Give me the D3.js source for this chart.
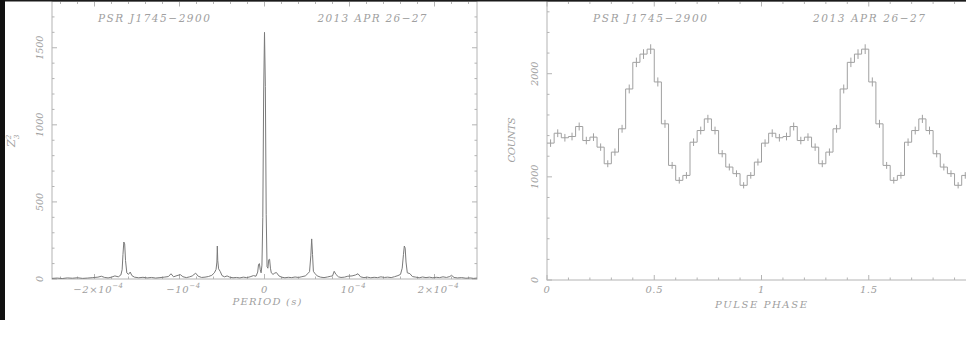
<!DOCTYPE html>
<html>
<head>
<meta charset="utf-8">
<script src="https://cdn.jsdelivr.net/npm/d3@7/dist/d3.min.js"></script>
<style>
  html, body { margin: 0; padding: 0; background: #fff; }
  svg { display: block; }
  text { font-family: "DejaVu Serif", "Liberation Serif", serif; font-style: italic; fill: #a0a0a0; }
</style>
</head>
<body>
<svg id="chart" width="966" height="352"></svg>
<script>
// ---- Z^2_3 periodogram: offset from the best period (microseconds) ----
const periodOffsetUs = [
  -250, -244, -238, -232, -226, -220, -214, -208, -202, -196, -192, -188, -184, -180, -176, -172,
  -169, -167.5, -166.5, -165.5, -164.5, -163.5, -162, -160, -158, -156, -153, -148, -143, -138,
  -133, -128, -123, -118, -113, -110, -107, -103, -99, -96, -92, -88, -85, -81, -78, -74, -70,
  -66, -62, -59, -57, -56, -55.5, -55, -54, -52, -50, -47, -44, -41, -37, -33, -29, -25, -21,
  -17, -13, -10, -8, -7, -6, -5, -4, -3, -2, -1, 0, 1, 2, 3, 4, 5, 6, 7, 8, 10, 12, 14, 17, 20,
  24, 28, 32, 36, 40, 44, 48, 51, 53, 54.5, 55.5, 56.5, 57.5, 59, 62, 66, 70, 74, 78, 80, 82, 84,
  87, 90, 94, 98, 103, 107, 110, 113, 117, 121, 125, 129, 133, 137, 141, 145, 149, 153, 157, 160,
  162, 163.5, 164.5, 165.5, 166.5, 168, 171, 174, 178, 182, 186, 190, 194, 198, 202, 206, 210,
  214, 218, 220, 223, 227, 232, 237, 242, 246, 250
];
const z2Power = [
  4, 6, 3, 7, 5, 8, 4, 6, 9, 12, 18, 10, 7, 12, 20, 14,
  26, 60, 160, 240, 228, 120, 40, 30, 45, 22, 12, 8, 11, 7,
  10, 6, 9, 12, 16, 34, 14, 22, 28, 15, 9, 14, 20, 38, 18, 10, 12,
  16, 24, 40, 62, 110, 214, 120, 66, 48, 22, 14, 20, 12, 8, 10, 7, 12, 9,
  14, 22, 18, 45, 95, 100, 60, 40, 90, 400, 1200, 1600, 1250, 420, 80, 70, 125, 128, 70, 40, 30, 38, 42, 20, 12,
  8, 11, 9, 13, 10, 15, 20, 35, 48, 150, 260, 160, 50, 38, 20, 12, 9, 13, 18, 20, 50, 30,
  14, 10, 12, 18, 20, 26, 34, 14, 9, 12, 8, 11, 9, 14, 10, 12, 9, 15, 22, 30,
  70, 160, 214, 200, 110, 40, 35, 16, 12, 8, 13, 9, 12, 8, 11, 9, 14,
  10, 16, 24, 10, 7, 9, 5, 7, 4, 6
];

// ---- folded pulse profile: 30 phase bins per cycle ----
const profileCounts = [
  1327, 1423, 1379, 1391, 1488, 1352, 1385, 1288, 1127, 1240,
  1466, 1852, 2110, 2190, 2238, 1920, 1514, 1111, 966, 1014,
  1336, 1449, 1562, 1449, 1224, 1095, 1031, 918, 1014, 1143
];
const profileCycles = 2;

// ---- axis ticks and labels ----
const periodMajorTicks = [-2e-4, -1e-4, 0, 1e-4, 2e-4];
const periodTickLabels = [["−2×10", "−4"], ["−10", "−4"], ["0", ""], ["10", "−4"], ["2×10", "−4"]];
const z2MajorTicks = [0, 500, 1000, 1500];
const phaseMajorTicks = [0, 0.5, 1, 1.5];
const phaseTickLabels = ["0", "0.5", "1", "1.5"];
const countsMajorTicks = [0, 1000, 2000];

const sourceName = "PSR J1745−2900";
const obsDate = "2013 APR 26−27";

const svg = d3.select("#chart");
const frameColor = "#b4b4b4";

// Draws a PGPLOT-style frame: inward ticks on all four sides.
function drawFrame(g, x, y, xMajor, xMinor, yMajor, yMinor, width) {
  const [x0, x1] = x.range();
  const [yb, yt] = y.range();
  const majorLen = 5, minorLen = 2.5;
  g.append("rect")
    .attr("x", x0).attr("y", yt).attr("width", x1 - x0).attr("height", yb - yt)
    .attr("fill", "none").attr("stroke", frameColor).attr("stroke-width", width);
  const tickGroup = g.append("g").attr("stroke", frameColor).attr("stroke-width", width);
  const xTicks = xMinor.map(v => ({ v, len: xMajor.some(m => Math.abs(m - v) < 1e-12) ? majorLen : minorLen }));
  const yTicks = yMinor.map(v => ({ v, len: yMajor.some(m => Math.abs(m - v) < 1e-9) ? majorLen : minorLen }));
  xTicks.forEach(t => {
    const px = x(t.v);
    tickGroup.append("line").attr("x1", px).attr("x2", px).attr("y1", yb).attr("y2", yb - t.len);
    tickGroup.append("line").attr("x1", px).attr("x2", px).attr("y1", yt).attr("y2", yt + t.len);
  });
  yTicks.forEach(t => {
    const py = y(t.v);
    tickGroup.append("line").attr("x1", x0).attr("x2", x0 + t.len).attr("y1", py).attr("y2", py);
    tickGroup.append("line").attr("x1", x1).attr("x2", x1 - t.len).attr("y1", py).attr("y2", py);
  });
}

function rangeStep(a, b, step) {
  const n = Math.round((b - a) / step);
  return d3.range(n + 1).map(i => +(a + i * step).toFixed(10));
}

// ================= left panel: Z^2 periodogram =================
const xP = d3.scaleLinear().domain([-2.5e-4, 2.5e-4]).range([52, 477]);
const yZ = d3.scaleLinear().domain([0, 1800]).range([279, 1.5]);
const left = svg.append("g");

drawFrame(left, xP, yZ, periodMajorTicks, rangeStep(-2.4e-4, 2.4e-4, 2e-5), z2MajorTicks, rangeStep(0, 1800, 100), 1);

const periodData = periodOffsetUs.map((p, i) => ({ p: p * 1e-6, z: z2Power[i] }));
left.append("path")
  .datum(periodData)
  .attr("fill", "none")
  .attr("stroke", "#7a7a7a")
  .attr("stroke-width", 1)
  .attr("stroke-linejoin", "round")
  .attr("d", d3.line().x(d => xP(d.p)).y(d => yZ(d.z)));

periodMajorTicks.forEach((v, i) => {
  const [base, exp] = periodTickLabels[i];
  const t = left.append("text")
    .attr("x", xP(v) + (exp ? 4 : 0)).attr("y", 293)
    .attr("text-anchor", "middle").attr("font-size", 10).attr("letter-spacing", 0.6);
  t.append("tspan").text(base);
  if (exp) t.append("tspan").attr("dy", -5).attr("font-size", 7).text(exp);
});
z2MajorTicks.forEach(v => {
  left.append("text")
    .attr("transform", `translate(43,${yZ(v)}) rotate(-90)`)
    .attr("text-anchor", "middle").attr("font-size", 9.5)
    .text(v);
});
left.append("text")
  .attr("x", 267).attr("y", 305)
  .attr("text-anchor", "middle").attr("font-size", 10).attr("textLength", 69).attr("lengthAdjust", "spacing")
  .text("PERIOD (s)");
const zLabel = left.append("text")
  .attr("transform", "translate(15,147) rotate(-90)")
  .attr("font-size", 11);
zLabel.append("tspan").text("Z");
zLabel.append("tspan").attr("dy", -4).attr("font-size", 7).text("2");
zLabel.append("tspan").attr("dx", -4).attr("dy", 8).attr("font-size", 7).text("3");

left.append("text").attr("x", 154).attr("y", 22).attr("text-anchor", "middle")
  .attr("font-size", 10.5).attr("textLength", 112).attr("lengthAdjust", "spacing").text(sourceName);
left.append("text").attr("x", 372).attr("y", 22).attr("text-anchor", "middle")
  .attr("font-size", 10.5).attr("textLength", 109).attr("lengthAdjust", "spacing").text(obsDate);

// ================= right panel: pulse profile =================
const xF = d3.scaleLinear().domain([0, 2]).range([547, 976]);
const yC = d3.scaleLinear().domain([0, 2700]).range([280, 1.5]);
const right = svg.append("g");

drawFrame(right, xF, yC, phaseMajorTicks.concat([2]), rangeStep(0, 2, 0.1), countsMajorTicks, rangeStep(0, 2600, 200), 1);

const nBins = profileCounts.length;
const bins = d3.range(nBins * profileCycles).map(i => ({
  lo: i / nBins,
  hi: (i + 1) / nBins,
  c: profileCounts[i % nBins]
}));
const stepPts = [];
bins.forEach(b => { stepPts.push([b.lo, b.c]); stepPts.push([b.hi, b.c]); });
right.append("path")
  .datum(stepPts)
  .attr("fill", "none")
  .attr("stroke", "#a0a0a0")
  .attr("stroke-width", 1)
  .attr("d", d3.line().x(d => xF(d[0])).y(d => yC(d[1])));
// Poisson error bars at bin centres
right.append("g").attr("stroke", "#a0a0a0").attr("stroke-width", 1)
  .selectAll("line").data(bins).join("line")
  .attr("x1", b => xF((b.lo + b.hi) / 2)).attr("x2", b => xF((b.lo + b.hi) / 2))
  .attr("y1", b => yC(b.c - Math.sqrt(b.c))).attr("y2", b => yC(b.c + Math.sqrt(b.c)));

phaseMajorTicks.forEach((v, i) => {
  right.append("text")
    .attr("x", xF(v)).attr("y", 293)
    .attr("text-anchor", "middle").attr("font-size", 10).attr("letter-spacing", 0.6)
    .text(phaseTickLabels[i]);
});
countsMajorTicks.forEach(v => {
  right.append("text")
    .attr("transform", `translate(538,${yC(v)}) rotate(-90)`)
    .attr("text-anchor", "middle").attr("font-size", 9.5)
    .text(v);
});
right.append("text")
  .attr("x", 761).attr("y", 308)
  .attr("text-anchor", "middle").attr("font-size", 10).attr("textLength", 92).attr("lengthAdjust", "spacing")
  .text("PULSE PHASE");
right.append("text")
  .attr("transform", "translate(515,140) rotate(-90)")
  .attr("text-anchor", "middle").attr("font-size", 10).attr("textLength", 45).attr("lengthAdjust", "spacing")
  .text("COUNTS");

right.append("text").attr("x", 650).attr("y", 22).attr("text-anchor", "middle")
  .attr("font-size", 10.5).attr("textLength", 114).attr("lengthAdjust", "spacing").text(sourceName);
right.append("text").attr("x", 869).attr("y", 22).attr("text-anchor", "middle")
  .attr("font-size", 10.5).attr("textLength", 112).attr("lengthAdjust", "spacing").text(obsDate);

// dark scan border along the top and left edges
svg.append("rect").attr("x", 0).attr("y", 0).attr("width", 966).attr("height", 1.5).attr("fill", "#1a1a1a");
svg.append("rect").attr("x", 0).attr("y", 0).attr("width", 5).attr("height", 320).attr("fill", "#111");
</script>
</body>
</html>
